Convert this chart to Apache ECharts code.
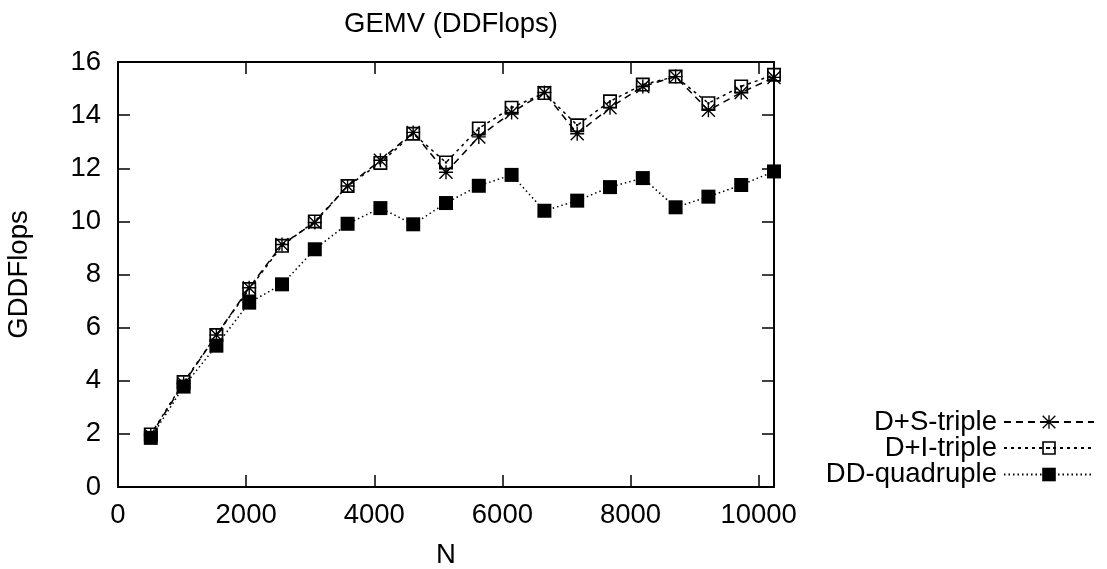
<!DOCTYPE html>
<html>
<head>
<meta charset="utf-8">
<script src="https://cdn.jsdelivr.net/npm/echarts@6/dist/echarts.min.js"></script>
<style>
html,body{margin:0;padding:0;background:#fff;}
#chart{width:1107px;height:569px;}
</style>
</head>
<body>
<div id="chart"></div>
<script>
const N = [512,1024,1536,2048,2560,3072,3584,4096,4608,5120,5632,6144,6656,7168,7680,8192,8704,9216,9728,10240];
const dsTriple = [1.95,3.9,5.72,7.5,9.13,9.96,11.33,12.3,13.35,11.85,13.18,14.1,14.85,13.3,14.28,15.08,15.45,14.18,14.85,15.42];
const diTriple = [1.98,3.95,5.72,7.45,9.08,10.0,11.33,12.2,13.3,12.22,13.5,14.28,14.83,13.62,14.52,15.15,15.45,14.45,15.08,15.52];
const ddQuad = [1.85,3.78,5.32,6.94,7.63,8.95,9.91,10.5,9.89,10.69,11.34,11.75,10.4,10.78,11.29,11.63,10.53,10.93,11.37,11.88];
const seriesNames = ['D+S-triple','D+I-triple','DD-quadruple'];
const xTicks = [0,2000,4000,6000,8000,10000];

const FONT = 'Liberation Sans, Arial, Helvetica, sans-serif';
const FS = 27.5;
const star = 'path://M0 45 L100 45 L100 55 L0 55 Z M45 0 L55 0 L55 100 L45 100 Z M7 0 L100 93 L93 100 L0 7 Z M93 0 L100 7 L7 100 L0 93 Z';
const boxDot = 'path://M0 0 L100 0 L100 100 L0 100 Z M12 12 L12 88 L88 88 L88 12 Z M42 42 L58 42 L58 58 L42 58 Z';

function pairs(ys){ return N.map((n,i)=>[n, ys[i]]); }

const chart = echarts.init(document.getElementById('chart'), null, {renderer:'canvas'});
const axisCommon = {
  axisLine:{show:true, onZero:false, lineStyle:{color:'#000', width:2}},
  axisTick:{show:true, inside:true, length:12, lineStyle:{color:'#000', width:1.5}},
  splitLine:{show:false}
};
function legendFor(name, top){
  return {
    data:[name], orient:'vertical', right:7, top:top, align:'right',
    itemWidth:90, itemHeight:17, itemGap:0,
    textStyle:{fontFamily:FONT, fontSize:FS, color:'#000', lineHeight:26, padding:[0,2,0,0]}
  };
}
chart.setOption({
  animation:false,
  backgroundColor:'#fff',
  title:{text:'GEMV (DDFlops)', left:446, top:5, textAlign:'center',
    textStyle:{fontFamily:FONT, fontSize:FS, fontWeight:'normal', color:'#000'}},
  legend:[legendFor(seriesNames[0],403), legendFor(seriesNames[1],429), legendFor(seriesNames[2],455.5)],
  grid:{left:118, right:333, top:62, bottom:82, containLabel:false, outerBoundsMode:'none'},
  xAxis:[
    Object.assign({type:'value', min:0, max:10240, interval:2000, position:'bottom',
      name:'N', nameLocation:'middle', nameGap:54,
      nameTextStyle:{fontFamily:FONT, fontSize:FS, color:'#000'},
      axisLabel:{fontFamily:FONT, fontSize:FS, color:'#000', margin:14, showMaxLabel:false,
        formatter:function(v){ return xTicks.indexOf(v)>=0 ? String(v) : ''; }}}, axisCommon),
    Object.assign({type:'value', min:0, max:10240, interval:2000, position:'top',
      axisLabel:{show:false}}, axisCommon)
  ],
  yAxis:[
    Object.assign({type:'value', min:0, max:16, interval:2, position:'left',
      name:'GDDFlops', nameLocation:'middle', nameGap:85, nameRotate:90,
      nameTextStyle:{fontFamily:FONT, fontSize:FS, color:'#000'},
      axisLabel:{fontFamily:FONT, fontSize:FS, color:'#000', margin:17}}, axisCommon),
    Object.assign({type:'value', min:0, max:16, interval:2, position:'right',
      axisLabel:{show:false}}, axisCommon)
  ],
  series:[
    {name:seriesNames[0], type:'line', data:pairs(dsTriple), symbol:star, symbolSize:14,
      lineStyle:{color:'#000', width:1.5, type:[7,5]}, itemStyle:{color:'#000'}, z:3},
    {name:seriesNames[1], type:'line', data:pairs(diTriple), symbol:boxDot, symbolSize:14,
      lineStyle:{color:'#000', width:1.5, type:[3,4]}, itemStyle:{color:'#000'}, z:4},
    {name:seriesNames[2], type:'line', data:pairs(ddQuad), symbol:'rect', symbolSize:14,
      lineStyle:{color:'#000', width:1.5, type:[1.5,3]}, itemStyle:{color:'#000'}, z:2}
  ]
});
</script>
</body>
</html>
